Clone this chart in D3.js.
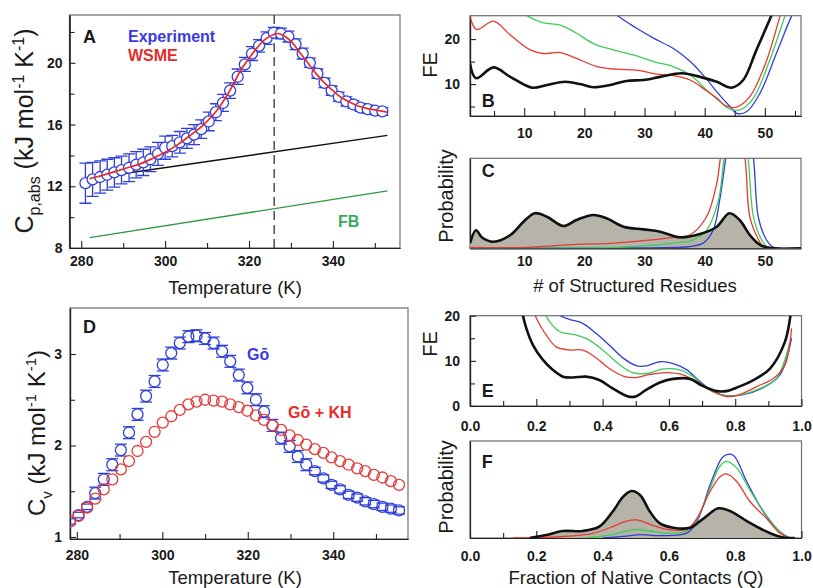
<!DOCTYPE html>
<html><head><meta charset="utf-8">
<script src="https://cdn.jsdelivr.net/npm/d3@7"></script>
<style>
body{margin:0;background:#fff;}
svg{font-family:"Liberation Sans",Arial,Helvetica,sans-serif;}
</style></head><body>
<svg id="c" width="813" height="588"></svg>
<script>
// ---------- Panel A data ----------
const expT = [281.0,282.7,284.5,286.2,287.9,289.6,291.4,293.1,294.8,296.5,298.3,300.0,301.7,303.5,305.2,306.9,308.6,310.4,312.1,313.8,315.5,317.3,319.0,320.7,322.4,324.2,325.9,327.6,329.4,331.1,332.8,334.5,336.3,338.0,339.7,341.4,343.2,344.9,346.6,348.3,350.1,351.8];
const expCp = [12.2,12.45,12.6,12.75,12.9,13.05,13.2,13.4,13.55,13.75,14.1,14.5,14.6,14.85,15.1,15.35,15.7,16.2,16.8,17.4,18.2,19.1,19.9,20.6,21.1,21.6,21.95,21.9,21.7,21.2,20.6,20.0,19.3,18.7,18.2,17.8,17.5,17.3,17.1,17.0,16.9,16.85];
const expErr = [1.3,1.1,1.05,1.0,0.95,0.9,0.9,0.85,0.85,0.8,0.75,0.75,0.7,0.7,0.65,0.65,0.6,0.6,0.55,0.55,0.5,0.5,0.45,0.45,0.4,0.4,0.35,0.35,0.35,0.35,0.35,0.3,0.3,0.3,0.3,0.3,0.3,0.25,0.25,0.25,0.25,0.25];
const wsmeT = [282,285,288,291,294,297,300,303,306,309,312,315,318,320,322,324,326,327,328,330,332,334,336,338,340,342,344,346,348,350,352,353];
const wsmeCp = [12.5,12.7,12.95,13.2,13.45,13.8,14.2,14.7,15.3,15.95,16.8,18.0,19.5,20.3,21.0,21.55,21.85,21.9,21.8,21.4,20.7,20.0,19.3,18.7,18.2,17.75,17.45,17.2,17.05,16.95,16.85,16.8];
const baseT = [282,353], baseCp = [12.5,15.3];
const fbT = [282,353], fbCp = [8.67,11.7];
const tmT = [326];

// ---------- Panel D data ----------
const dT = [278.4,280.4,282.4,284.3,286.3,288.3,290.3,292.2,294.2,296.2,298.2,300.1,302.1,304.1,306.1,308.0,310.0,312.0,314.0,315.9,317.9,319.9,321.9,323.8,325.8,327.8,329.8,331.7,333.7,335.7,337.7,339.6,341.6,343.6,345.6,347.5,349.5,351.5,353.5,355.4];
const goCv = [1.17,1.24,1.33,1.48,1.63,1.79,1.95,2.14,2.34,2.54,2.70,2.88,3.01,3.12,3.19,3.20,3.17,3.12,3.03,2.92,2.77,2.63,2.50,2.37,2.22,2.08,1.99,1.88,1.79,1.72,1.64,1.57,1.52,1.46,1.43,1.39,1.36,1.33,1.31,1.29];
const goErr = [0.03,0.03,0.03,0.065,0.065,0.065,0.065,0.065,0.065,0.065,0.065,0.065,0.065,0.065,0.065,0.065,0.065,0.065,0.065,0.065,0.065,0.065,0.065,0.065,0.065,0.065,0.065,0.065,0.065,0.04,0.04,0.04,0.04,0.04,0.04,0.04,0.04,0.04,0.04,0.04];
const khCv = [1.17,1.23,1.32,1.42,1.52,1.63,1.74,1.83,1.94,2.04,2.15,2.25,2.32,2.39,2.45,2.48,2.50,2.49,2.48,2.45,2.42,2.38,2.33,2.28,2.22,2.17,2.11,2.06,2.01,1.96,1.92,1.87,1.83,1.79,1.75,1.72,1.68,1.65,1.61,1.57];

// ---------- Panel B data (FE vs # structured residues) ----------
const bBlackN = [1,2,4.9,7.7,11.3,13.8,16.8,19.3,21.5,24.3,27,29.8,32.6,36.2,39.2,42,44.5,46.4,48.6,51.1,52.5];
const bBlackFE = [14.6,11.3,13.7,11.6,9.2,9.8,10.5,10.0,9.3,9.8,10.7,10.9,11.6,12.4,11.6,10.5,9.2,10.9,17.6,25.3,30];
const bRedN = [1,2.1,4.9,7.7,11,13.2,16,18.7,22.1,25.4,28.7,32,34.8,37.6,40.3,42,43.6,45.3,47.5,50.3,52.5,53.5];
const bRedFE = [25.1,22.1,24,20.9,17.6,16.8,17,15.7,13.9,13.3,13.1,12.2,11.9,10.9,8.5,6.9,5.1,4.9,7.2,15.3,25,29];
const bGreenN = [9,10.7,13.2,16,18.7,21.5,24.8,28.1,31.5,34.8,37.6,40.3,42.5,44.2,45.9,48.1,50.8,53.3,54.3];
const bGreenFE = [26.5,25,23.6,23.1,21.3,19,17.6,16.5,15,13.9,12,8.7,6.1,4.4,4.3,6.9,15.3,25,29];
const bBlueN = [24,25.7,28.7,31.5,34.8,37.6,40,42.2,44.2,45.3,47,49.2,51.9,54.4,56];
const bBlueFE = [27,25,22.4,20.2,17.9,15,11.6,8,5,3.5,3.9,8,16.8,25,29];

// ---------- Panel C data (probability vs # structured residues) ----------
const cBlackN = [1,2,3,4.9,7.7,9.9,11.8,13.8,16.5,18.7,21.5,23.7,26.5,29.8,32.6,35.9,39.2,42,44.1,45.8,47.5,49.2,51.4,56];
const cBlackP = [0.055,0.20,0.12,0.073,0.148,0.296,0.39,0.35,0.248,0.315,0.37,0.333,0.24,0.21,0.185,0.122,0.159,0.24,0.39,0.315,0.148,0.037,0,0];
const cRedN = [1,10.4,18.7,24.3,29.8,34.8,37.6,40.3,42.0,42.6,44.6,46.7,47.5,48.9,49.7,51,56];
const cRedP = [0.01,0.011,0.044,0.055,0.085,0.122,0.15,0.35,0.72,1.0,1.8,1.0,0.35,0.1,0.02,0,0];
const cGreenN = [1,15,25,30,33,35.9,37.6,40.3,42.3,43.2,45.2,47.2,48.1,49.4,50.3,51.5,56];
const cGreenP = [0,0.003,0.01,0.03,0.044,0.066,0.08,0.2,0.54,1.0,1.9,1.0,0.35,0.1,0.02,0,0];
const cBlueN = [1,20,30,35,37.6,39.8,41.4,42.5,43.5,45.8,48.1,48.9,50.2,51.2,52.5,56];
const cBlueP = [0,0.002,0.005,0.01,0.02,0.06,0.2,0.54,1.0,2.0,1.0,0.35,0.1,0.02,0,0];

// ---------- Panel E data (FE vs Q) ----------
const eBlackQ = [0.145,0.155,0.17,0.19,0.22,0.25,0.28,0.31,0.35,0.39,0.43,0.477,0.50,0.53,0.573,0.613,0.664,0.70,0.744,0.774,0.805,0.855,0.905,0.95,0.97,0.98];
const eBlackFE = [26,21.6,17.2,13.5,10.2,8.0,6.5,6.3,6.5,5.75,3.9,2.1,2.1,3.5,5.2,6.0,6.0,4.5,3.3,3.3,4.1,5.75,8.3,14.2,21.6,27];
const eRedQ = [0.185,0.19,0.205,0.23,0.26,0.30,0.34,0.38,0.42,0.467,0.50,0.543,0.593,0.643,0.694,0.734,0.774,0.815,0.865,0.915,0.95,0.97];
const eRedFE = [24,21.6,18.7,15.7,13.1,12.4,12.4,10.7,8.3,6.5,6.3,7.0,7.4,6.9,5.0,3.2,2.1,2.6,4.3,6.1,9.1,17.2];
const eGreenQ = [0.215,0.22,0.24,0.27,0.32,0.36,0.40,0.452,0.49,0.533,0.583,0.633,0.673,0.714,0.754,0.784,0.825,0.875,0.925,0.965];
const eGreenFE = [24,21.6,18.7,16.5,15.7,14.6,12.4,9.1,7.4,7.2,8.2,8.0,6.5,3.9,2.6,2.2,2.6,3.9,6.1,14.2];
const eBlueQ = [0.25,0.256,0.27,0.30,0.34,0.38,0.42,0.462,0.503,0.533,0.573,0.613,0.654,0.694,0.734,0.774,0.825,0.875,0.935,0.97];
const eBlueFE = [23,21.6,20.1,19.2,18.3,16.1,13.5,10.6,8.9,8.9,9.8,9.4,8.0,5.4,3.2,2.3,2.5,3.7,6.9,15];

// ---------- Panel F data (probability vs Q) ----------
const fBlackQ = [0.18,0.2,0.23,0.28,0.34,0.39,0.43,0.462,0.487,0.513,0.543,0.573,0.613,0.664,0.704,0.749,0.784,0.835,0.885,0.925,0.955,0.98];
const fBlackP = [0,0.013,0.03,0.072,0.072,0.117,0.27,0.426,0.485,0.443,0.27,0.15,0.106,0.106,0.2,0.306,0.278,0.175,0.082,0.024,0,0];
const fRedQ = [0.13,0.27,0.37,0.43,0.472,0.503,0.543,0.593,0.654,0.684,0.724,0.754,0.774,0.805,0.845,0.895,0.935,0.965];
const fRedP = [0,0.013,0.048,0.117,0.175,0.186,0.141,0.09,0.09,0.2,0.477,0.632,0.66,0.58,0.374,0.2,0.048,0];
const fGreenQ = [0.35,0.42,0.472,0.503,0.543,0.593,0.654,0.684,0.724,0.754,0.774,0.805,0.845,0.895,0.935,0.965];
const fGreenP = [0,0.03,0.072,0.086,0.072,0.05,0.072,0.186,0.51,0.74,0.79,0.72,0.49,0.23,0.065,0];
const fBlueQ = [0.40,0.472,0.513,0.573,0.654,0.684,0.724,0.759,0.774,0.795,0.835,0.885,0.935,0.965];
const fBlueP = [0,0.02,0.035,0.025,0.05,0.165,0.546,0.82,0.86,0.85,0.58,0.27,0.065,0];

// ---------- tick values ----------
const tempMajor = [280,300,320,340], tempMinor = [290,310,330,350];
const cpMajor = [8,12,16,20], cpMinor = [10,14,18,22];
const cvMajor = [1,2,3], cvMinor = [1.5,2.5];
const resMajor = [10,20,30,40,50], resMinor = [5,15,25,35,45,55];
const feMajor = [10,20], feMinor = [5,15];
const qMajor = [0,0.2,0.4,0.6,0.8,1.0], qMinor = [0.1,0.3,0.5,0.7,0.9];
const feEMajor = [0,10,20], feEMinor = [5,15];

// ---------- drawing ----------
const FONT = '"Liberation Sans", Arial, Helvetica, sans-serif';
const BLUE = '#2f3fd8', RED = '#e8382f', GREEN = '#3ccc5a', GRAY = '#b6b4a9';
const svg = d3.select('#c');
const zip = (a,b) => a.map((v,i)=>[v,b[i]]);

function makePanel(o){
  const x = d3.scaleLinear().domain(o.xd).range([o.x0,o.x1]);
  const y = d3.scaleLinear().domain(o.yd).range([o.y1,o.y0]);
  const g = svg.append('g');
  const id = 'clip'+o.name;
  svg.append('clipPath').attr('id',id).append('rect')
    .attr('x',o.x0).attr('y',o.y0).attr('width',o.x1-o.x0).attr('height',o.y1-o.y0);
  g.append('rect').attr('x',o.x0).attr('y',o.y0).attr('width',o.x1-o.x0).attr('height',o.y1-o.y0)
    .attr('fill','none').attr('stroke','#6d6d6d').attr('stroke-width',1.2);
  const ax = g.append('g').attr('transform',`translate(0,${o.y1})`);
  if(o.xMinor) ax.append('g').call(d3.axisBottom(x).tickValues(o.xMinor).tickSize(-o.minorLen).tickSizeOuter(0).tickFormat(''));
  ax.append('g').call(d3.axisBottom(x).tickValues(o.xMajor).tickSize(-o.majorLen).tickSizeOuter(0).tickPadding(o.xPad).tickFormat(o.xFmt));
  const ay = g.append('g').attr('transform',`translate(${o.x0},0)`);
  if(o.yMinor) ay.append('g').call(d3.axisLeft(y).tickValues(o.yMinor).tickSize(-5).tickSizeOuter(0).tickFormat(''));
  ay.append('g').call(d3.axisLeft(y).tickValues(o.yMajor||[]).tickSize(o.yMajor?-6:0).tickSizeOuter(0).tickPadding(o.yPad).tickFormat(o.yFmt||''));
  g.selectAll('.tick text').attr('font-size',14).attr('font-weight','bold').attr('font-family',FONT).attr('fill','#1a1a1a');
  g.selectAll('.domain').attr('stroke','#222').attr('stroke-width',1.2);
  g.selectAll('.tick line').attr('stroke','#222').attr('stroke-width',1.1);
  const plot = g.append('g').attr('clip-path',`url(#${id})`);
  return {x,y,g,plot};
}

function text(x,y,str,o){
  return svg.append('text').attr('x',x).attr('y',y).text(str)
    .attr('font-size',o.size).attr('font-weight',o.bold?'bold':'normal')
    .attr('fill',o.color||'#1a1a1a').attr('text-anchor',o.anchor||'start').attr('font-family',FONT);
}
function ylabel(x,y,parts,size,small){
  const t = svg.append('text').attr('transform',`translate(${x},${y}) rotate(-90)`)
    .attr('text-anchor','middle').attr('font-size',size).attr('fill','#1a1a1a').attr('font-family',FONT);
  let shift = 0;
  parts.forEach(p=>{
    if(typeof p === 'string'){
      t.append('tspan').attr('dy',-shift).text(p); shift = 0;
    } else {
      const s = p.sub ? size*0.28 : -size*0.38;
      t.append('tspan').attr('dy',s-shift).attr('font-size',small).text(p.sub||p.sup); shift = s;
    }
  });
}

function lineGen(p){
  return d3.line().x(d=>p.x(d[0])).y(d=>p.y(d[1])).curve(d3.curveCatmullRom.alpha(0.5));
}
function drawLine(p,xs,ys,color,w){
  p.plot.append('path').datum(zip(xs,ys)).attr('d',lineGen(p)).attr('fill','none')
    .attr('stroke',color).attr('stroke-width',w).attr('stroke-linejoin','round');
}
function drawArea(p,xs,ys){
  const a = d3.area().x(d=>p.x(d[0])).y0(p.y(0)).y1(d=>p.y(d[1])).curve(d3.curveCatmullRom.alpha(0.5));
  p.plot.append('path').datum(zip(xs,ys)).attr('d',a).attr('fill',GRAY).attr('stroke','none');
}

// ===== Panel A =====
const pA = makePanel({name:'A',x0:69.5,x1:400,y0:15,y1:248,xd:[277.2,356],yd:[8,23.1],
  xMajor:tempMajor,xMinor:tempMinor,yMajor:cpMajor,yMinor:cpMinor,xPad:8,yPad:7,
  xFmt:d3.format('d'),yFmt:d3.format('d'),majorLen:7,minorLen:5});
drawLine(pA,baseT,baseCp,'#111',1.4);
drawLine(pA,fbT,fbCp,'#2e9a40',1.4);
pA.plot.selectAll('line.tm').data(tmT).join('line').attr('x1',d=>pA.x(d)).attr('x2',d=>pA.x(d))
  .attr('y1',15).attr('y2',248).attr('stroke','#333').attr('stroke-width',1.3).attr('stroke-dasharray','9,5');
const expData = expT.map((t,i)=>({t,v:expCp[i],e:expErr[i]}));
const eb = pA.plot.append('g').attr('stroke',BLUE).attr('stroke-width',1.3);
eb.selectAll('line.v').data(expData).join('line').attr('x1',d=>pA.x(d.t)).attr('x2',d=>pA.x(d.t))
  .attr('y1',d=>pA.y(d.v-d.e)).attr('y2',d=>pA.y(d.v+d.e));
eb.selectAll('line.t').data(expData).join('line').attr('x1',d=>pA.x(d.t)-6).attr('x2',d=>pA.x(d.t)+6)
  .attr('y1',d=>pA.y(d.v+d.e)).attr('y2',d=>pA.y(d.v+d.e));
eb.selectAll('line.b').data(expData).join('line').attr('x1',d=>pA.x(d.t)-6).attr('x2',d=>pA.x(d.t)+6)
  .attr('y1',d=>pA.y(d.v-d.e)).attr('y2',d=>pA.y(d.v-d.e));
pA.plot.selectAll('circle.exp').data(expData).join('circle').attr('cx',d=>pA.x(d.t)).attr('cy',d=>pA.y(d.v))
  .attr('r',5.5).attr('fill','#fff').attr('stroke',BLUE).attr('stroke-width',1.3);
drawLine(pA,wsmeT,wsmeCp,'#e52b2b',1.7);
text(83,42.5,'A',{size:18,bold:true});
text(128,41.7,'Experiment',{size:16,bold:true,color:'#3a3ae0'});
text(128,60.7,'WSME',{size:16,bold:true,color:'#e52b2b'});
text(338,227,'FB',{size:16,bold:true,color:'#3aaa5a'});
ylabel(33,131,['C',{sub:'p,abs'},' (kJ mol',{sup:'-1'},' K',{sup:'-1'},')'],25,16);
text(235,294,'Temperature (K)',{size:18.5,anchor:'middle'});

// ===== Panel D =====
const pD = makePanel({name:'D',x0:70,x1:408,y0:308,y1:539,xd:[278.4,357.5],yd:[0.978,3.503],
  xMajor:tempMajor,xMinor:tempMinor,yMajor:cvMajor,yMinor:cvMinor,xPad:11,yPad:8,
  xFmt:d3.format('d'),yFmt:d3.format('d'),majorLen:7,minorLen:5});
const goData = dT.map((t,i)=>({t,v:goCv[i],e:goErr[i]}));
const eb2 = pD.plot.append('g').attr('stroke',BLUE).attr('stroke-width',1.3);
eb2.selectAll('line.t').data(goData).join('line').attr('x1',d=>pD.x(d.t)-6).attr('x2',d=>pD.x(d.t)+6)
  .attr('y1',d=>pD.y(d.v+d.e)).attr('y2',d=>pD.y(d.v+d.e));
eb2.selectAll('line.b').data(goData).join('line').attr('x1',d=>pD.x(d.t)-6).attr('x2',d=>pD.x(d.t)+6)
  .attr('y1',d=>pD.y(d.v-d.e)).attr('y2',d=>pD.y(d.v-d.e));
pD.plot.selectAll('circle.go').data(goData).join('circle').attr('cx',d=>pD.x(d.t)).attr('cy',d=>pD.y(d.v))
  .attr('r',5.5).attr('fill','none').attr('stroke',BLUE).attr('stroke-width',1.3);
pD.plot.selectAll('circle.kh').data(dT.map((t,i)=>({t,v:khCv[i]}))).join('circle').attr('cx',d=>pD.x(d.t)).attr('cy',d=>pD.y(d.v))
  .attr('r',5.5).attr('fill','none').attr('stroke','#e53a3a').attr('stroke-width',1.3);
text(83,333,'D',{size:18,bold:true});
text(247,360,'Gō',{size:16,bold:true,color:'#3a3ae0'});
text(288,418,'Gō + KH',{size:16,bold:true,color:'#e52b2b'});
ylabel(45,433,['C',{sub:'v'},' (kJ mol',{sup:'-1'},' K',{sup:'-1'},')'],24,15);
text(235,583.5,'Temperature (K)',{size:18.5,anchor:'middle'});

// ===== Panel B =====
const pB = makePanel({name:'B',x0:470,x1:801,y0:15.7,y1:116,xd:[1,56],yd:[2.9,25.2],
  xMajor:resMajor,xMinor:resMinor,yMajor:feMajor,yMinor:feMinor,xPad:12,yPad:10,
  xFmt:d3.format('d'),yFmt:d3.format('d'),majorLen:8,minorLen:5});
drawLine(pB,bBlueN,bBlueFE,BLUE,1.3);
drawLine(pB,bGreenN,bGreenFE,GREEN,1.3);
drawLine(pB,bRedN,bRedFE,RED,1.3);
drawLine(pB,bBlackN,bBlackFE,'#111',2.6);
text(481.7,106.7,'B',{size:18,bold:true});
ylabel(437,65,['FE'],20,14);

// ===== Panel C =====
const pC = makePanel({name:'C',x0:470,x1:801,y0:158.3,y1:248.3,xd:[1,56],yd:[0,1],
  xMajor:resMajor,xMinor:null,yMajor:null,yMinor:null,xPad:8,yPad:8,
  xFmt:d3.format('d'),yFmt:null,majorLen:0,minorLen:0});
drawArea(pC,cBlackN,cBlackP);
drawLine(pC,cBlueN,cBlueP,BLUE,1.3);
drawLine(pC,cGreenN,cGreenP,GREEN,1.3);
drawLine(pC,cRedN,cRedP,RED,1.3);
drawLine(pC,cBlackN,cBlackP,'#111',2.6);
text(481.7,176.7,'C',{size:18,bold:true});
ylabel(453,196,['Probability'],20,14);
text(635,292,'# of Structured Residues',{size:18.5,anchor:'middle'});

// ===== Panel E =====
const pE = makePanel({name:'E',x0:470,x1:801.5,y0:315.7,y1:406,xd:[0,1],yd:[0,20],
  xMajor:qMajor,xMinor:qMinor,yMajor:feEMajor,yMinor:feEMinor,xPad:15,yPad:10,
  xFmt:d3.format('.1f'),yFmt:d3.format('d'),majorLen:7,minorLen:5});
drawLine(pE,eBlueQ,eBlueFE,BLUE,1.3);
drawLine(pE,eGreenQ,eGreenFE,GREEN,1.3);
drawLine(pE,eRedQ,eRedFE,RED,1.3);
drawLine(pE,eBlackQ,eBlackFE,'#111',2.6);
text(481.7,396.7,'E',{size:18,bold:true});
ylabel(437,344,['FE'],20,14);

// ===== Panel F =====
const pF = makePanel({name:'F',x0:470,x1:801.5,y0:441,y1:538,xd:[0,1],yd:[0,1],
  xMajor:qMajor,xMinor:qMinor,yMajor:null,yMinor:null,xPad:13,yPad:8,
  xFmt:d3.format('.1f'),yFmt:null,majorLen:7,minorLen:5});
drawArea(pF,fBlackQ,fBlackP);
drawLine(pF,fBlueQ,fBlueP,BLUE,1.3);
drawLine(pF,fGreenQ,fGreenP,GREEN,1.3);
drawLine(pF,fRedQ,fRedP,RED,1.3);
drawLine(pF,fBlackQ,fBlackP,'#111',2.6);
text(481.7,468.3,'F',{size:18,bold:true});
ylabel(453,487,['Probability'],20,14);
text(636,583.5,'Fraction of Native Contacts (Q)',{size:18.5,anchor:'middle'});
</script>
</body></html>
